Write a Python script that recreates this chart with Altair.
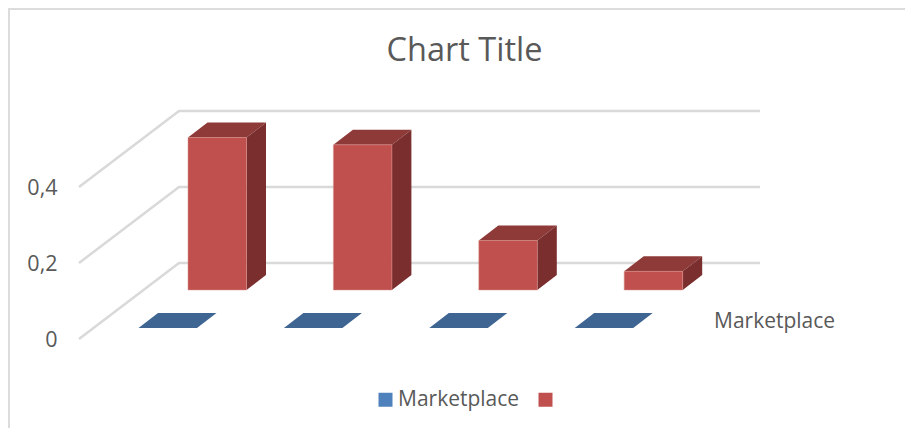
import altair as alt
import pandas as pd

# Values
series_names = ["Marketplace", " "]
categories = [1, 2, 3, 4]
blue_values = [0.0, 0.0, 0.0, 0.0]
red_values = [0.401, 0.382, 0.130, 0.049]
y_ticks = [0.0, 0.2, 0.4]
series_label = "Marketplace"
title_text = "Chart Title"

# Pseudo-3D projection settings
W, H = 897, 420
UNIT = 380.0
ZERO = 331
FONT = "Open Sans"
TEXT = "#595959"
GRID = "#d9d9d9"
STEP = 145.4
BAR_W = 58.5
DX, DY = 19.5, 15 / UNIT
ROWS = {
    "Marketplace": dict(x=130.5, base=0.029, values=blue_values, top="#3f6592", side="#3f6592"),
    " ": dict(x=180.0, base=0.129, values=red_values, top="#8e3a38", side="#7a2f2e"),
}

xs = alt.Scale(domain=[0, W], range=[0, W])
ys = alt.Scale(domain=[(ZERO - H) / UNIT, ZERO / UNIT], range=[H, 0], nice=False, zero=False)
X = alt.X("x:Q", scale=xs, axis=None)
Y = alt.Y("y:Q", scale=ys, title=None, stack=None, axis=alt.Axis(
    values=y_ticks, labelExpr="datum.value == 0 ? '0' : replace(format(datum.value, '.1f'), '.', ',')",
    grid=False, domain=False, ticks=False, offset=-49, labelPadding=0, labelOffset=1.5,
    labelFont=FONT, labelFontSize=21.5, labelColor=TEXT))

# Back wall and floor lines
grid_rows = []
for t in y_ticks:
    wall = t + 76 / UNIT
    for i, (px, py) in enumerate([(71, t), (171, wall), (752, wall)]):
        grid_rows.append(dict(k=t, i=i, x=px, y=py))
grid = alt.Chart(pd.DataFrame(grid_rows)).mark_line(color=GRID, strokeWidth=2.5).encode(
    x=X, y=Y, detail="k:N", order="i:Q")

front_rows = []
face_layers = []
for name in series_names:
    r = ROWS[name]
    side_rows, top_rows = [], []
    for c, v in zip(categories, r["values"]):
        x0 = r["x"] + (c - 1) * STEP
        x1 = x0 + BAR_W
        b = r["base"]
        t = b + v
        front_rows.append(dict(series=name, x=x0, x2=x1, y=b, y2=t))
        k = f"b{c}"
        if v > 0:
            side_rows += [dict(k=k, x=x1, y=b, y2=t),
                          dict(k=k, x=x1 + DX, y=b + DY, y2=t + DY)]
        top_rows += [dict(k=k, x=x0, y=t, y2=t),
                     dict(k=k, x=x0 + DX, y=t, y2=t + DY),
                     dict(k=k, x=x1, y=t, y2=t + DY),
                     dict(k=k, x=x1 + DX, y=t + DY, y2=t + DY)]
    for rows, col in ((top_rows, r["top"]), (side_rows, r["side"])):
        if rows:
            face_layers.append(
                alt.Chart(pd.DataFrame(rows)).mark_area(
                    orient="vertical", interpolate="linear", color=col, opacity=1
                ).encode(x=X, y=Y, y2="y2:Q", detail="k:N")
            )

front = alt.Chart(pd.DataFrame(front_rows)).mark_rect().encode(
    x=X, x2="x2:Q", y=Y, y2="y2:Q",
    color=alt.Color("series:N", scale=alt.Scale(domain=series_names, range=["#4f81bd", "#c0504d"]),
                    legend=alt.Legend(title=None, orient="none", legendX=367, legendY=381,
                                      direction="horizontal", symbolType="square", symbolSize=196,
                                      symbolStrokeWidth=0, labelFont=FONT, labelFontSize=21,
                                      labelColor=TEXT, labelOffset=2, columnPadding=15, padding=0,
                                      labelLimit=200, symbolOpacity=1)))

edge = alt.Chart(pd.DataFrame([r for r in front_rows if r["y"] != r["y2"]])).mark_rect(
    filled=False, stroke="#d98f8c", strokeWidth=1, opacity=0.5).encode(x=X, x2="x2:Q", y=Y, y2="y2:Q")

label = alt.Chart(pd.DataFrame([dict(t=series_label, x=706, y=17 / UNIT)])).mark_text(
    align="left", baseline="middle", font=FONT, fontSize=21, color=TEXT).encode(x=X, y=Y, text="t:N")

border_v = alt.Chart(pd.DataFrame([dict(x=1)])).mark_rule(color="#dcdcdc", strokeWidth=2).encode(x=X)
border_h = alt.Chart(pd.DataFrame([dict(y=ZERO / UNIT - 1 / UNIT)])).mark_rule(color="#dcdcdc", strokeWidth=2).encode(y=Y)

chart = alt.layer(grid, border_v, border_h, *face_layers, front, edge, label).properties(
    width=W, height=H, padding=0, autosize=alt.AutoSizeParams(type="none"),
    background="white",
    title=alt.TitleParams(title_text, anchor="middle", frame="group", offset=-60, dx=8,
                          font=FONT, fontSize=32.5, fontWeight="normal", color=TEXT),
).configure_view(stroke=None)

chart.save("out.html", embed_options={"renderer": "svg", "actions": False})
